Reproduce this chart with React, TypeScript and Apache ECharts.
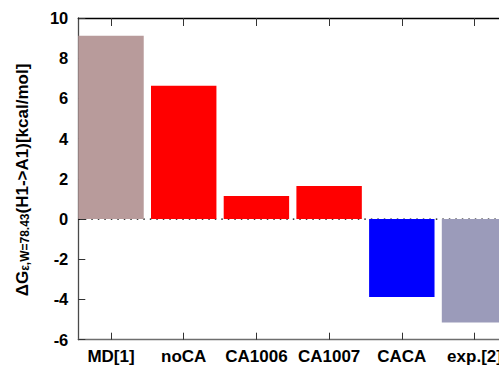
import React, { useEffect, useRef } from "react";
import * as echarts from "echarts";

const categories = ["MD[1]", "noCA", "CA1006", "CA1007", "CACA", "exp.[2]"];
const values = [9.12, 6.63, 1.15, 1.64, -3.88, -5.14];
const barColors = ["#b89b9b", "#ff0000", "#ff0000", "#ff0000", "#0000ff", "#9b9bba"];
const yTicks = { min: -6, max: 10, interval: 2 };
const xRange = { min: -0.45, max: 5.45 };

const FONT = "'Liberation Sans', Arial, sans-serif";

export default function App() {
  const ref = useRef<HTMLDivElement>(null);
  useEffect(() => {
    if (!ref.current) return;
    const chart = echarts.init(ref.current, null, { renderer: "svg" });
    const W = 499;
    const band = 72.7;
    const left0 = 78.3;
    const top = 18;
    const bottom = 370 - 339.7;
    const right0 = W - (left0 + (xRange.max - xRange.min) * band);
    const catLeft = left0 - (0.5 + xRange.min) * band;
    const right1 = W - (catLeft + categories.length * band);
    chart.setOption({
      animation: false,
      backgroundColor: "#ffffff",
      grid: [
        { left: left0, top, right: right0, bottom, outerBoundsMode: "none", containLabel: false },
        { left: catLeft, top, right: right1, bottom, outerBoundsMode: "none", containLabel: false },
      ],
      xAxis: [
        {
          type: "value",
          gridIndex: 0,
          min: xRange.min,
          max: xRange.max,
          position: "bottom",
          axisLine: { show: true, onZero: false, lineStyle: { color: "#6e6e6e", width: 1.3 } },
          axisTick: { show: false },
          axisLabel: { show: false },
          splitLine: { show: false },
        },
        {
          type: "value",
          gridIndex: 0,
          min: xRange.min,
          max: xRange.max,
          position: "top",
          axisLine: { show: true, onZero: false, lineStyle: { color: "#000000", width: 1.3 } },
          axisTick: { show: false },
          axisLabel: { show: false },
          splitLine: { show: false },
        },
        {
          type: "category",
          gridIndex: 1,
          data: categories,
          position: "bottom",
          axisLine: { show: false, onZero: false },
          axisTick: { show: true, inside: true, length: 7, alignWithLabel: true, interval: 0, lineStyle: { color: "#333" } },
          axisLabel: {
            show: true,
            interval: 0,
            margin: 8,
            color: "#000",
            fontFamily: FONT,
            fontWeight: "bold",
            fontSize: 17,
          },
          splitLine: { show: false },
        },
        {
          type: "category",
          gridIndex: 1,
          data: categories,
          position: "top",
          axisLine: { show: false, onZero: false },
          axisTick: { show: true, inside: true, length: 8, alignWithLabel: true, interval: 0, lineStyle: { color: "#333" } },
          axisLabel: { show: false },
          splitLine: { show: false },
        },
      ],
      yAxis: [
        {
          type: "value",
          gridIndex: 0,
          min: yTicks.min,
          max: yTicks.max,
          interval: yTicks.interval,
          axisLine: { show: true, onZero: false, lineStyle: { color: "#4a4a4a", width: 1.3 } },
          axisTick: { show: true, inside: true, length: 7, lineStyle: { color: "#333" } },
          axisLabel: {
            margin: 10,
            color: "#000",
            fontFamily: FONT,
            fontWeight: "bold",
            fontSize: 16.5,
          },
          splitLine: { show: false },
        },
        {
          type: "value",
          gridIndex: 1,
          min: yTicks.min,
          max: yTicks.max,
          show: false,
        },
      ],
      graphic: [
        {
          type: "text",
          x: 22,
          y: 180,
          rotation: Math.PI / 2,
          style: {
            text: "{m|ΔG}{s|ε,W=78.43}{m|(H1->A1)[kcal/mol]}",
            align: "center",
            verticalAlign: "middle",
            fill: "#000",
            rich: {
              m: {
                fontFamily: FONT,
                fontWeight: "bold",
                fontSize: 17,
                lineHeight: 17,
                verticalAlign: "top",
                fill: "#000",
              },
              s: {
                fontFamily: FONT,
                fontWeight: "bold",
                fontSize: 12,
                lineHeight: 12,
                verticalAlign: "bottom",
                fill: "#000",
              },
            },
          },
        },
      ],
      series: [
        {
          type: "line",
          xAxisIndex: 0,
          yAxisIndex: 0,
          z: 1,
          symbol: "none",
          data: [
            [xRange.min, 0],
            [xRange.max, 0],
          ],
          lineStyle: { color: "#000", width: 1.2, type: [1.5, 5] },
        },
        {
          type: "bar",
          xAxisIndex: 0,
          yAxisIndex: 0,
          z: 2,
          barWidth: 0.9 * band,
          data: values.map((v, i) => ({
            value: [i, v],
            itemStyle: { color: barColors[i] },
          })),
        },
      ],
    });
    return () => chart.dispose();
  }, []);
  return (
    <div
      ref={ref}
      style={{ position: "fixed", left: 0, top: 0, width: 499, height: 370, background: "#fff" }}
    />
  );
}
